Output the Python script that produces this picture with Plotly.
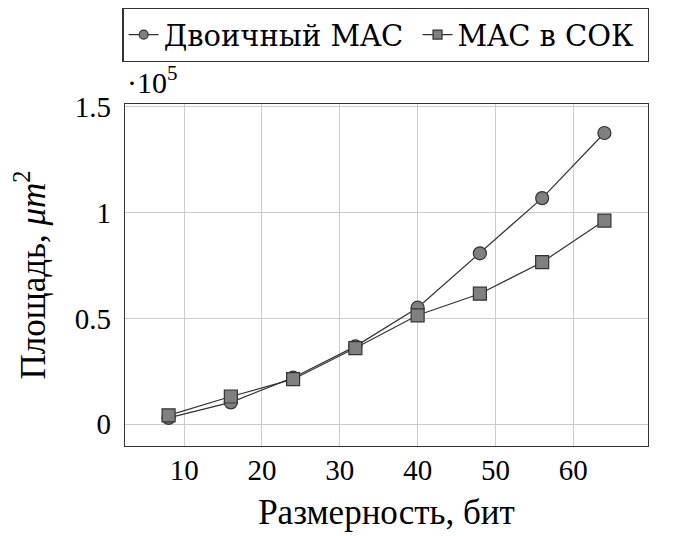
import plotly.graph_objects as go

bits = [8, 16, 24, 32, 40, 48, 56, 64]
binary_mac = [0.03, 0.103, 0.22, 0.368, 0.551, 0.808, 1.069, 1.377]
rns_mac = [0.042, 0.131, 0.213, 0.36, 0.515, 0.617, 0.766, 0.963]
series_names = ["Двоичный MAC", "MAC в СОК"]
x_ticks = [10, 20, 30, 40, 50, 60]
y_ticks = [0, 0.5, 1, 1.5]
y_tick_labels = ["0", "0.5", "1", "1.5"]

serif = "Liberation Serif"
legend_font = "DejaVu Serif"
edge = "#333333"
fill = "#808080"

fig = go.Figure()
for name, vals, sym in [(series_names[0], binary_mac, "circle"),
                        (series_names[1], rns_mac, "square")]:
    fig.add_trace(go.Scatter(
        x=bits, y=vals, name=name, mode="lines+markers", showlegend=False,
        line=dict(color=edge, width=1.2),
        marker=dict(symbol=sym, size=13, color=fill,
                    line=dict(color=edge, width=1.2)),
    ))
    # legend entry with a smaller marker, as in the reference
    fig.add_trace(go.Scatter(
        x=[None], y=[None], name=name + "\u00a0", mode="lines+markers",
        line=dict(color=edge, width=1.2),
        marker=dict(symbol=sym, size=9, color=fill,
                    line=dict(color=edge, width=1.2)),
    ))

fig.update_layout(
    width=666, height=528,
    margin=dict(l=117, r=26, t=96, b=86),
    paper_bgcolor="white", plot_bgcolor="white",
    font=dict(family=serif, size=29, color="black"),
    showlegend=True,
    legend=dict(
        orientation="h", x=0.5675, xanchor="center", xref="container",
        y=1.0, yanchor="top", yref="container",
        bordercolor=edge, borderwidth=1.2, bgcolor="white",
        font=dict(family=legend_font, size=29),
        itemwidth=30, tracegroupgap=0,
    ),
    xaxis=dict(
        range=[2.4, 69.6], tickvals=x_ticks,
        tickfont=dict(family=serif, size=29),
        showgrid=True, gridcolor="#cccccc", gridwidth=1,
        showline=True, linecolor=edge, linewidth=1.2, mirror=True,
        ticks="", zeroline=False, ticklabelstandoff=-2,
        title=dict(text="Размерность, бит", standoff=14,
                   font=dict(family=serif, size=35)),
    ),
    yaxis=dict(
        range=[-0.103, 1.514], tickvals=y_ticks, ticktext=y_tick_labels,
        tickfont=dict(family=serif, size=29),
        showgrid=True, gridcolor="#cccccc", gridwidth=1,
        showline=True, linecolor=edge, linewidth=1.2, mirror=True,
        ticks="", zeroline=False, ticklabelstandoff=7,
        title=dict(text="Площадь, <i>μm</i><sup>2</sup>", standoff=26,
                   font=dict(family=serif, size=35)),
    ),
)

fig.add_annotation(
    text="·10<sup>5</sup>", xref="paper", yref="paper", x=0, y=1.0,
    xanchor="left", yanchor="bottom", showarrow=False, yshift=3,
    font=dict(family=serif, size=30),
)

fig.write_html("out.html")
